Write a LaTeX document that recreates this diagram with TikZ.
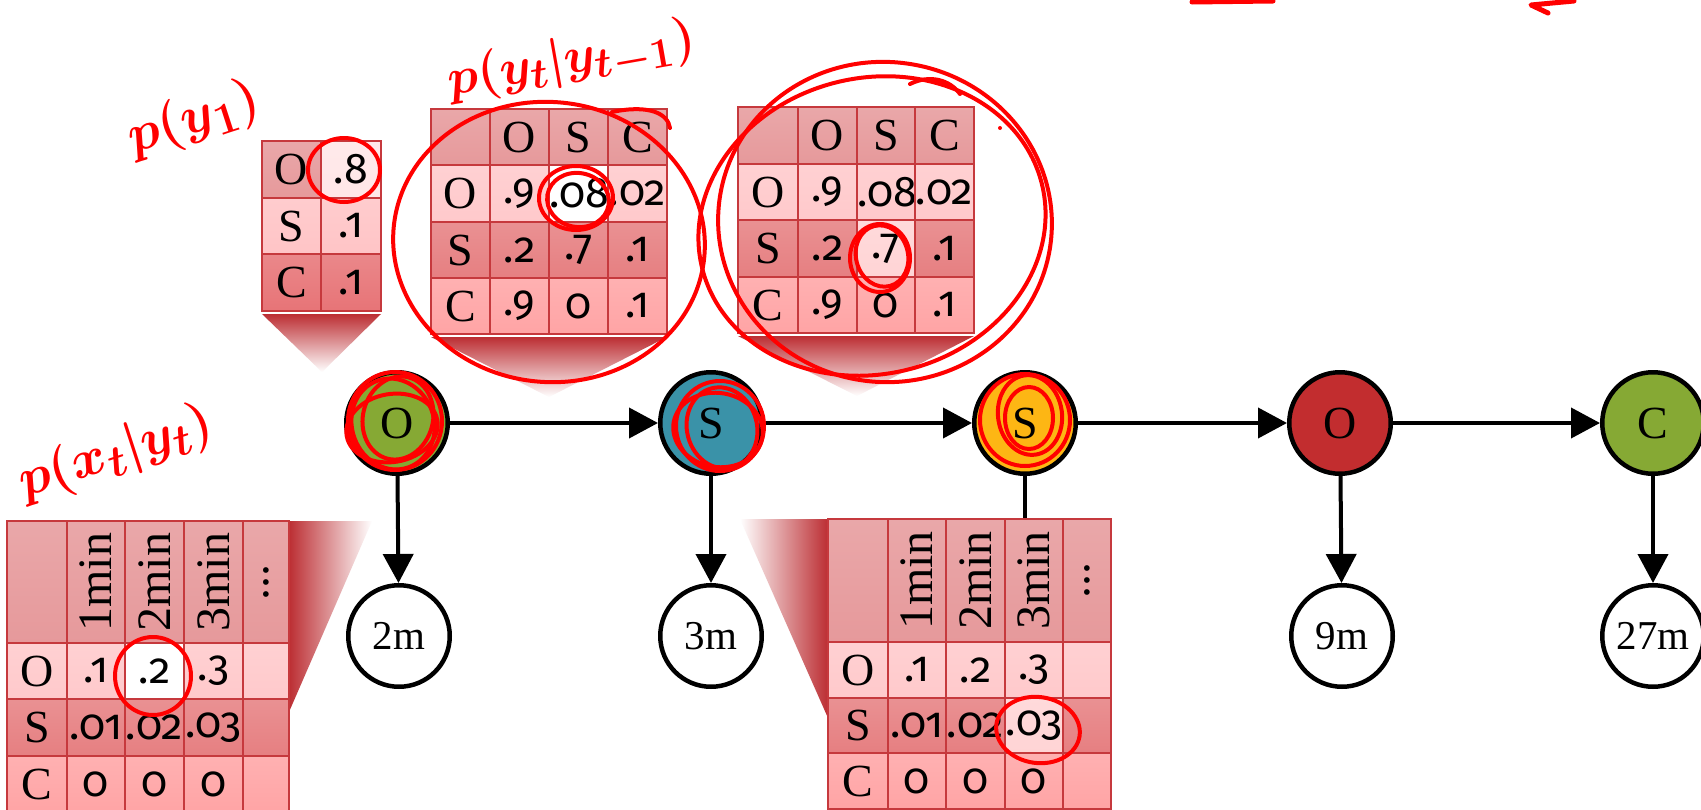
\documentclass[tikz,border=0pt]{standalone}
\usepackage{fontspec}
\usepackage{graphicx}
\usetikzlibrary{arrows.meta}
\newfontfamily\nodefont{Liberation Serif}
\newfontfamily\numfont[Numbers=OldStyle]{Fira Sans}
\definecolor{hdr}{HTML}{E6999B}
\definecolor{rowO}{HTML}{FFC9CB}
\definecolor{rowS}{HTML}{E67F81}
\definecolor{rowC}{HTML}{FFA4A5}
\definecolor{priorC}{HTML}{E77477}
\definecolor{priorS}{HTML}{FFC4C6}
\definecolor{hiO}{HTML}{FFE6E7}
\definecolor{hiT}{HTML}{FFD4D5}
\definecolor{gridred}{HTML}{C6393D}
\definecolor{callred}{HTML}{BC2E33}
\definecolor{ngreen}{HTML}{86A934}
\definecolor{nteal}{HTML}{3A92A8}
\definecolor{namber}{HTML}{FDB614}
\definecolor{nred}{HTML}{C22D2F}
\definecolor{pen}{HTML}{FF0000}
\newcommand\tc[7]{\node[cellbox,cellfill=#6,minimum width=#4pt,minimum height=#5pt,anchor=north west] (#1) at (#2,#3) {#7};}
\newcommand\Lt[1]{\scalebox{2.3}{\nodefont\fontsize{20}{20}\selectfont #1}}
\newcommand\Nm[1]{\scalebox{2.15}{\numfont\fontsize{20}{20}\selectfont #1}}
\newcommand\Hd[1]{\rotatebox{90}{\scalebox{2.4}{\nodefont\fontsize{20}{20}\selectfont #1}}}
\newcommand\Nl[1]{\scalebox{2.3}{\nodefont\fontsize{20}{20}\selectfont #1}}
\newcommand\Ob[1]{\scalebox{2.05}{\nodefont\fontsize{20}{20}\selectfont #1}}
\begin{document}
\begin{tikzpicture}[x=1pt,y=-1pt,
  cellbox/.style={draw=gridred,line width=1.5pt,inner sep=0pt,outer sep=0pt},
  cellfill/.style={top color=#1!86!white,bottom color=#1},
  hid/.style={circle,draw=black,line width=4.5pt,minimum size=101.5pt,inner sep=0pt},
  obs/.style={hid,fill=white},
  arr/.style={line width=4pt,-{Triangle[length=29pt,width=30pt]}},
  penline/.style={draw=pen,line width=4pt,line cap=round},
  pentext/.style={text=pen,inner sep=0pt},
  tabframe/.style={draw=gridred,line width=2.5pt}]
\useasboundingbox (0,0) rectangle (1701,809);
\fill[white] (0,0) rectangle (1701,809);

% callout pointers
\shade[top color=callred,bottom color=white] (262,314) -- (381,314) -- (322,372) -- cycle;
\shade[top color=callred,bottom color=white] (431,337) -- (667,337) -- (549,397) -- cycle;
\shade[top color=callred,bottom color=white] (738,336) -- (974,336) -- (857,396) -- cycle;
\shade[left color=callred,right color=white] (289,521) -- (372,521) -- (289,712) -- cycle;
\shade[left color=white,right color=callred] (740,519) -- (828,519) -- (828,718) -- cycle;

% prior table
\tc{p11}{262}{141}{59}{57}{hdr}{\Lt{O}}
\tc{p12}{321}{141}{60}{57}{hiO}{\Nm{.8}}
\tc{p21}{262}{198}{59}{56}{priorS}{\Lt{S}}
\tc{p22}{321}{198}{60}{56}{priorS}{\Nm{.1}}
\tc{p31}{262}{254}{59}{57}{priorC}{\Lt{C}}
\tc{p32}{321}{254}{60}{57}{priorC}{\Nm{.1}}
\draw[tabframe] (262,141) rectangle (381,311);

% transition table 1
\tc{a00}{431}{109}{59}{56}{hdr}{}
\tc{a01}{490}{109}{59}{56}{hdr}{\Lt{O}}
\tc{a02}{549}{109}{59}{56}{hdr}{\Lt{S}}
\tc{a03}{608}{109}{59}{56}{hdr}{\Lt{C}}
\tc{a10}{431}{165}{59}{57}{rowO}{\Lt{O}}
\tc{a11}{490}{165}{59}{57}{rowO}{\Nm{.9}}
\tc{a12}{549}{165}{59}{57}{white}{\Nm{.08}}
\tc{a13}{608}{165}{59}{57}{rowO}{\Nm{.02}}
\tc{a20}{431}{222}{59}{56}{rowS}{\Lt{S}}
\tc{a21}{490}{222}{59}{56}{rowS}{\Nm{.2}}
\tc{a22}{549}{222}{59}{56}{rowS}{\Nm{.7}}
\tc{a23}{608}{222}{59}{56}{rowS}{\Nm{.1}}
\tc{a30}{431}{278}{59}{56}{rowC}{\Lt{C}}
\tc{a31}{490}{278}{59}{56}{rowC}{\Nm{.9}}
\tc{a32}{549}{278}{59}{56}{rowC}{\Nm{0}}
\tc{a33}{608}{278}{59}{56}{rowC}{\Nm{.1}}
\draw[tabframe] (431,109) rectangle (667,334);

% transition table 2
\tc{b00}{738}{107}{60}{57}{hdr}{}
\tc{b01}{798}{107}{59}{57}{hdr}{\Lt{O}}
\tc{b02}{857}{107}{58}{57}{hdr}{\Lt{S}}
\tc{b03}{915}{107}{59}{57}{hdr}{\Lt{C}}
\tc{b10}{738}{164}{60}{56}{rowO}{\Lt{O}}
\tc{b11}{798}{164}{59}{56}{rowO}{\Nm{.9}}
\tc{b12}{857}{164}{58}{56}{rowO}{\Nm{.08}}
\tc{b13}{915}{164}{59}{56}{rowO}{\Nm{.02}}
\tc{b20}{738}{220}{60}{57}{rowS}{\Lt{S}}
\tc{b21}{798}{220}{59}{57}{rowS}{\Nm{.2}}
\tc{b22}{857}{220}{58}{57}{hiT}{\Nm{.7}}
\tc{b23}{915}{220}{59}{57}{rowS}{\Nm{.1}}
\tc{b30}{738}{277}{60}{56}{rowC}{\Lt{C}}
\tc{b31}{798}{277}{59}{56}{rowC}{\Nm{.9}}
\tc{b32}{857}{277}{58}{56}{rowC}{\Nm{0}}
\tc{b33}{915}{277}{59}{56}{rowC}{\Nm{.1}}
\draw[tabframe] (738,107) rectangle (974,333);

% emission table 1
\tc{c00}{7}{521}{60}{122}{hdr}{}
\tc{c01}{67}{521}{58}{122}{hdr}{\Hd{1min}}
\tc{c02}{125}{521}{59}{122}{hdr}{\Hd{2min}}
\tc{c03}{184}{521}{59}{122}{hdr}{\Hd{3min}}
\tc{c04}{243}{521}{46}{122}{hdr}{\Hd{...}}
\tc{c10}{7}{643}{60}{56}{rowO}{\Lt{O}}
\tc{c11}{67}{643}{58}{56}{rowO}{\Nm{.1}}
\tc{c12}{125}{643}{59}{56}{white}{\Nm{.2}}
\tc{c13}{184}{643}{59}{56}{rowO}{\Nm{.3}}
\tc{c14}{243}{643}{46}{56}{rowO}{}
\tc{c20}{7}{699}{60}{57}{rowS}{\Lt{S}}
\tc{c21}{67}{699}{58}{57}{rowS}{\Nm{.01}}
\tc{c22}{125}{699}{59}{57}{rowS}{\Nm{.02}}
\tc{c23}{184}{699}{59}{57}{rowS}{\Nm{.03}}
\tc{c24}{243}{699}{46}{57}{rowS}{}
\tc{c30}{7}{756}{60}{56}{rowC}{\Lt{C}}
\tc{c31}{67}{756}{58}{56}{rowC}{\Nm{0}}
\tc{c32}{125}{756}{59}{56}{rowC}{\Nm{0}}
\tc{c33}{184}{756}{59}{56}{rowC}{\Nm{0}}
\tc{c34}{243}{756}{46}{56}{rowC}{}
\draw[tabframe] (7,521) rectangle (289,812);

% connector from third state into emission table 2
\node[hid,fill=namber] (h3) at (1025,423) {\Nl{S}};
\coordinate (e2top) at (1027,519);
\draw[line width=4pt] (h3.south) -- (h3.south |- e2top);

% emission table 2
\tc{d00}{828}{519}{60}{123}{hdr}{}
\tc{d01}{888}{519}{58}{123}{hdr}{\Hd{1min}}
\tc{d02}{946}{519}{59}{123}{hdr}{\Hd{2min}}
\tc{d03}{1005}{519}{58}{123}{hdr}{\Hd{3min}}
\tc{d04}{1063}{519}{48}{123}{hdr}{\Hd{...}}
\tc{d10}{828}{642}{60}{56}{rowO}{\Lt{O}}
\tc{d11}{888}{642}{58}{56}{rowO}{\Nm{.1}}
\tc{d12}{946}{642}{59}{56}{rowO}{\Nm{.2}}
\tc{d13}{1005}{642}{58}{56}{rowO}{\Nm{.3}}
\tc{d14}{1063}{642}{48}{56}{rowO}{}
\tc{d20}{828}{698}{60}{55}{rowS}{\Lt{S}}
\tc{d21}{888}{698}{58}{55}{rowS}{\Nm{.01}}
\tc{d22}{946}{698}{59}{55}{rowS}{\Nm{.02}}
\tc{d23}{1005}{698}{58}{55}{hiT}{\Nm{.03}}
\tc{d24}{1063}{698}{48}{55}{rowS}{}
\tc{d30}{828}{753}{60}{56}{rowC}{\Lt{C}}
\tc{d31}{888}{753}{58}{56}{rowC}{\Nm{0}}
\tc{d32}{946}{753}{59}{56}{rowC}{\Nm{0}}
\tc{d33}{1005}{753}{58}{56}{rowC}{\Nm{0}}
\tc{d34}{1063}{753}{48}{56}{rowC}{}
\draw[tabframe] (828,519) rectangle (1111,812);

% hidden states and observations
\node[hid,fill=ngreen] (h1) at (397,423) {\Nl{O}};
\node[hid,fill=nteal]  (h2) at (711,423) {\Nl{S}};
\node[hid,fill=nred]   (h4) at (1340,423) {\Nl{O}};
\node[hid,fill=ngreen] (h5) at (1653,423) {\Nl{C}};
\node[obs] (o1) at (399,636) {\Ob{2m}};
\node[obs] (o2) at (711,636) {\Ob{3m}};
\node[obs] (o4) at (1342,636) {\Ob{9m}};
\node[obs] (o5) at (1653,636) {\Ob{27m}};
\draw[arr] (h1) -- (h2);
\draw[arr] (h2) -- (h3);
\draw[arr] (h3) -- (h4);
\draw[arr] (h4) -- (h5);
\draw[arr] (h1) -- (o1);
\draw[arr] (h2) -- (o2);
\draw[arr] (h4) -- (o4);
\draw[arr] (h5) -- (o5);

% red pen annotations
\node[pentext,rotate=18] (ann1) at (194,120) {\scalebox{2.15}{\Huge\boldmath$p(y_{1})$}};
\node[pentext,rotate=10] (ann2) at (572,62) {\scalebox{2.05}{\Huge\boldmath$p(y_{t}|y_{t-1})$}};
\node[pentext,rotate=18] (ann3) at (116,454) {\scalebox{2.15}{\Huge\boldmath$p(x_{t}|y_{t})$}};

\draw[penline] (344,170) ellipse [x radius=36,y radius=32];
\draw[penline] (576,198) ellipse [x radius=37,y radius=32];
\draw[penline,rotate around={-10:(578,200)}] (578,200) ellipse [x radius=31,y radius=27];
\draw[penline] (880,258) ellipse [x radius=30,y radius=34];
\draw[penline,rotate around={15:(882,256)}] (882,256) ellipse [x radius=26,y radius=31];
\draw[penline] (153,676) ellipse [x radius=38,y radius=39];
\draw[penline,rotate around={-8:(1038,730)}] (1038,730) ellipse [x radius=42,y radius=33];

% big loops around transition tables
\draw[penline,rotate around={-6:(549,242)}] (549,242) ellipse [x radius=156,y radius=140];
\draw[penline] (612,112) .. controls (650,104) and (668,114) .. (670,128);
\draw[penline,rotate around={-8:(885,222)}] (885,222) ellipse [x radius=167,y radius=160];
\draw[penline,rotate around={14:(872,226)}] (872,226) ellipse [x radius=175,y radius=148];
\draw[penline] (910,84) .. controls (930,74) and (950,80) .. (960,94);
\fill[pen] (1000,128) circle [radius=2];

% scribbles on states
\draw[penline] (395,421) ellipse [x radius=47,y radius=49];
\draw[penline,rotate around={20:(393,424)}] (393,424) ellipse [x radius=41,y radius=46];
\draw[penline,rotate around={-15:(398,418)}] (398,418) ellipse [x radius=35,y radius=42];
\draw[penline,rotate around={10:(392,428)}] (392,428) ellipse [x radius=46,y radius=34];
\draw[penline] (720,426) ellipse [x radius=44,y radius=45];
\draw[penline,rotate around={15:(722,428)}] (722,428) ellipse [x radius=35,y radius=41];
\draw[penline,rotate around={-10:(718,430)}] (718,430) ellipse [x radius=45,y radius=37];
\draw[penline] (1025,420) ellipse [x radius=45,y radius=46];
\draw[penline,rotate around={8:(1030,415)}] (1030,415) ellipse [x radius=32,y radius=40];
\draw[penline] (1029,418) ellipse [x radius=24,y radius=31];

% marks at the top edge
\draw[pen,line width=5pt,line cap=round] (1192,2) -- (1273,1);
\draw[pen,line width=5pt,line cap=round,line join=round] (1574,1) -- (1531,5) -- (1548,13);
\end{tikzpicture}
\end{document}
